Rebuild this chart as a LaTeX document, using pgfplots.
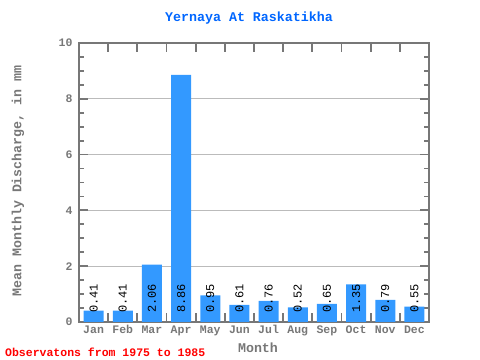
\documentclass[border=0pt]{standalone}
\usepackage{pgfplots}
\pgfplotsset{compat=1.18}
\usepackage{fontspec}
\setmainfont{Liberation Mono}
\setmonofont{Liberation Mono}
\definecolor{framegray}{HTML}{777777}
\definecolor{gridgray}{HTML}{BBBBBB}
\definecolor{barblue}{HTML}{3399FF}
\definecolor{titleblue}{HTML}{0066FF}
\begin{document}
\begin{tikzpicture}
\useasboundingbox (0,0) rectangle (480bp,360bp);
\begin{axis}[
  at={(79bp,38bp)}, anchor=south west,
  scale only axis, width=350bp, height=279bp,
  xmin=-0.5, xmax=11.5, ymin=0, ymax=10,
  axis line style={framegray, line width=2bp},
  every tick/.style={framegray, line width=1.8bp},
  major tick length=9bp, minor tick length=5bp,
  xtick={-0.5,0.5,...,11.5}, xticklabels={},
  extra x ticks={0,1,2,3,4,5,6,7,8,9,10,11},
  extra x tick labels={Jan,Feb,Mar,Apr,May,Jun,Jul,Aug,Sep,Oct,Nov,Dec},
  extra x tick style={major tick length=0bp, grid=none},
  ytick={0,2,4,6,8,10}, minor y tick num=3,
  ymajorgrids, major grid style={gridgray, line width=0.8bp},
  tick label style={font=\fontsize{11.5bp}{13bp}\selectfont\bfseries, text=framegray},
  yticklabel style={xshift=-3bp},
  /pgf/number format/assume math mode=true,
]
\addplot[ybar, bar width=20bp, fill=barblue, draw=none, bar shift=0pt]
  coordinates {(0,0.41) (1,0.41) (2,2.06) (3,8.86) (4,0.95) (5,0.61) (6,0.76) (7,0.52) (8,0.65) (9,1.35) (10,0.79) (11,0.55)};
\addplot[draw=none, mark=none, nodes near coords, point meta=explicit symbolic,
  every node near coord/.style={yshift=9bp, rotate=90, anchor=west, inner sep=0pt, text=black, font=\fontsize{12bp}{13bp}\selectfont}]
  coordinates {(0,0) [0.41] (1,0) [0.41] (2,0) [2.06] (3,0) [8.86] (4,0) [0.95] (5,0) [0.61] (6,0) [0.76] (7,0) [0.52] (8,0) [0.65] (9,0) [1.35] (10,0) [0.79] (11,0) [0.55]};
\end{axis}
\node[text=titleblue, font=\fontsize{13.3bp}{15bp}\selectfont\bfseries] at (249bp,342bp) {Yernaya At Raskatikha};
\node[text=framegray, font=\fontsize{13.3bp}{15bp}\selectfont\bfseries, rotate=90] at (18bp,179bp) {Mean Monthly Discharge, in mm};
\node[text=framegray, font=\fontsize{13.3bp}{15bp}\selectfont\bfseries] at (258bp,12bp) {Month};
\node[text=red, font=\fontsize{11.5bp}{13bp}\selectfont\bfseries, anchor=west, inner sep=0pt] at (5bp,8bp) {Observatons from 1975 to 1985};
\end{tikzpicture}
\end{document}
